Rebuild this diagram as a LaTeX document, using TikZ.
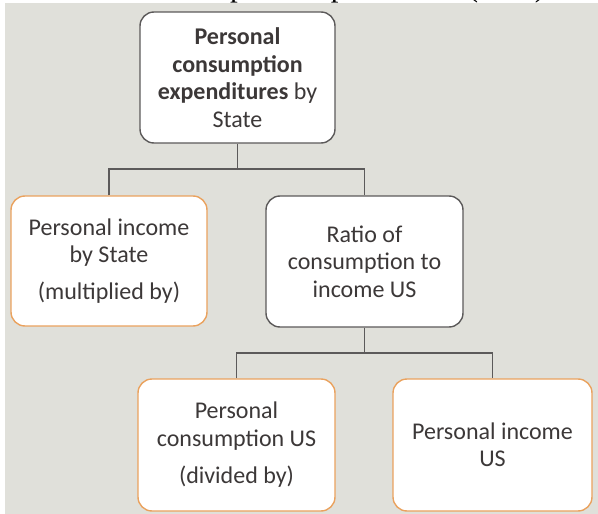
\documentclass[tikz,border=0pt]{standalone}
\usepackage{fontspec}
\setmainfont{Carlito}
\newfontfamily\titlefont{Liberation Serif}
\definecolor{bg}{RGB}{224,224,218}
\definecolor{orangeb}{RGB}{234,162,94}
\definecolor{greyb}{RGB}{92,90,90}
\definecolor{txt}{RGB}{60,56,56}
\begin{document}
\begin{tikzpicture}[x=1pt,y=-1pt,
  boxbase/.style={draw, fill=white, rounded corners=14pt, line width=1.4pt,
    align=center, inner sep=0pt, text=txt,
    font=\fontsize{24}{27.5}\selectfont},
  greybox/.style={boxbase, draw=greyb},
  orangebox/.style={boxbase, draw=orangeb},
  conn/.style={draw=greyb, line width=1.4pt}]
\useasboundingbox (0,0) rectangle (598,514);
\fill[white] (0,0) rectangle (598,514);
\fill[bg] (5,2.5) rectangle (598,514);
\begin{scope}
\clip (0,0) rectangle (598,2.5);
\node[anchor=base west, inner sep=0pt, font=\titlefont\fontsize{31}{31}\selectfont] (title) at (19,-4) {Personal consumption expenditures (PCE)};
\end{scope}

\node[greybox, minimum width=195pt, minimum height=131pt] (top) at (237.5,77.5)
  {\textbf{Personal}\\\textbf{consumption}\\\textbf{expenditures} by\\State};
\node[orangebox, minimum width=196pt, minimum height=130pt] (pi) at (109,261)
  {Personal income\\by State\\[9pt](multiplied by)};
\node[greybox, minimum width=197pt, minimum height=131pt] (ratio) at (364.5,261.5)
  {Ratio of\\consumption to\\income US};
\node[orangebox, minimum width=197pt, minimum height=132pt] (pc) at (236.5,445)
  {Personal\\consumption US\\[10pt](divided by)};
\node[orangebox, minimum width=199pt, minimum height=132pt] (pius) at (492.5,445)
  {Personal income\\US};

\coordinate (j1) at (0,169);
\coordinate (j2) at (0,353);
\draw[conn] (top.south) -- (top.south |- j1);
\draw[conn] (pi.north) -- (pi.north |- j1) -- (ratio.north |- j1) -- (ratio.north);
\draw[conn] (ratio.south) -- (ratio.south |- j2);
\draw[conn] (pc.north) -- (pc.north |- j2) -- (pius.north |- j2) -- (pius.north);
\end{tikzpicture}
\end{document}
